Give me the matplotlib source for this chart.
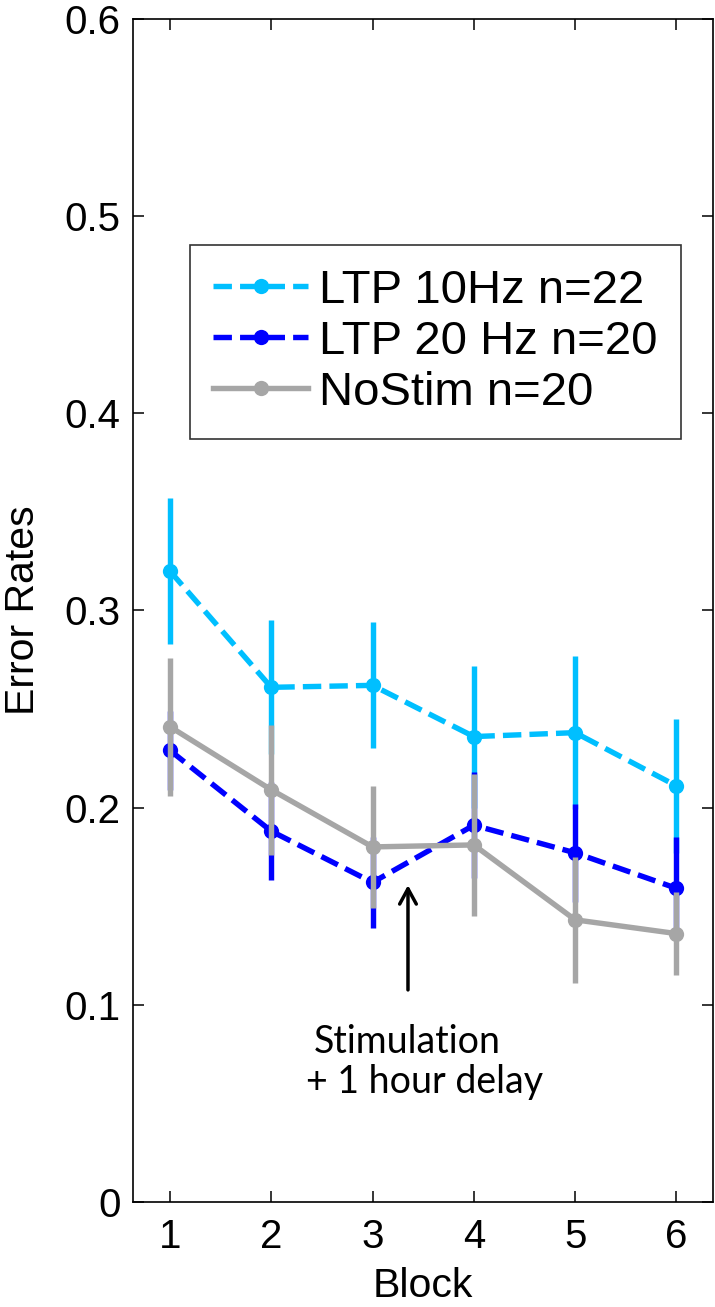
import matplotlib
matplotlib.use("Agg")
import matplotlib.pyplot as plt
from matplotlib.lines import Line2D

blocks = [1, 2, 3, 4, 5, 6]
ltp10_mean = [0.320, 0.261, 0.262, 0.236, 0.238, 0.211]
ltp10_err = [0.037, 0.034, 0.032, 0.036, 0.039, 0.034]
ltp20_mean = [0.229, 0.188, 0.162, 0.191, 0.177, 0.159]
ltp20_err = [0.020, 0.025, 0.023, 0.027, 0.025, 0.026]
nostim_mean = [0.241, 0.209, 0.180, 0.181, 0.143, 0.136]
nostim_err = [0.035, 0.033, 0.031, 0.036, 0.032, 0.021]
labels = ["LTP 10Hz n=22", "LTP 20 Hz n=20", "NoStim n=20"]
yticks = [0, 0.1, 0.2, 0.3, 0.4, 0.5, 0.6]
ytick_labels = ["0", "0.1", "0.2", "0.3", "0.4", "0.5", "0.6"]
note_lines = ["Stimulation", "+ 1 hour delay"]

plt.rcParams['font.family'] = ['Liberation Sans', 'DejaVu Sans']

fig = plt.figure(figsize=(7.15, 13.07), dpi=100)
ax = fig.add_axes([0.186, 0.0807, 0.811, 0.9044])

lw = 3.9
ms = 11
dash = (0, (3.4, 1.5))
series = [
    (ltp10_mean, ltp10_err, "#00BFFF", dash, labels[0]),
    (ltp20_mean, ltp20_err, "#0000FF", dash, labels[1]),
    (nostim_mean, nostim_err, "#A6A6A6", "-", labels[2]),
]
handles = []
for i, (m, e, c, ls, lab) in enumerate(series):
    ax.errorbar(blocks, m, yerr=e, color=c, linestyle=ls, linewidth=lw,
                elinewidth=lw, capsize=0, marker='o', markersize=ms,
                markeredgewidth=0, zorder=2 + i)
    handles.append(Line2D([], [], color=c, linestyle=ls, linewidth=lw,
                          marker='o', markersize=ms, markeredgewidth=0,
                          label=lab))

ax.annotate("", xy=(3.35, 0.162), xytext=(3.35, 0.106),
            arrowprops=dict(arrowstyle="->,head_length=1.1,head_width=0.6",
                            color="black", lw=2.5))
ax.text(2.42, 0.081, note_lines[0], fontsize=27,
        family=['Lato', 'DejaVu Sans'], ha='left', va='center')
ax.text(2.34, 0.0605, note_lines[1], fontsize=27,
        family=['Lato', 'DejaVu Sans'], ha='left', va='center')

ax.set_xlim(0.635, 6.36)
ax.set_ylim(0, 0.6)
ax.set_xticks(blocks)
ax.set_xticklabels([str(b) for b in blocks])
ax.set_yticks(yticks)
ax.set_yticklabels(ytick_labels)
ax.tick_params(direction='in', length=7.7, width=1.1, labelsize=29,
               top=True, right=True)
ax.tick_params(axis='y', pad=9)
ax.tick_params(axis='x', pad=12)
for s in ax.spines.values():
    s.set_linewidth(1.2)
ax.set_xlabel("Block", fontsize=29.5, labelpad=8)
ax.set_ylabel("Error Rates", fontsize=29.5, labelpad=16)

leg = ax.legend(handles=handles, loc='upper left', bbox_to_anchor=(0.098, 0.809),
                fontsize=34, frameon=True, fancybox=False, edgecolor='black',
                handlelength=2.0, handletextpad=0.23, labelspacing=0.15,
                borderpad=0.5, borderaxespad=0)
leg.get_frame().set_linewidth(1.2)

fig.savefig("out.png", dpi=100)
